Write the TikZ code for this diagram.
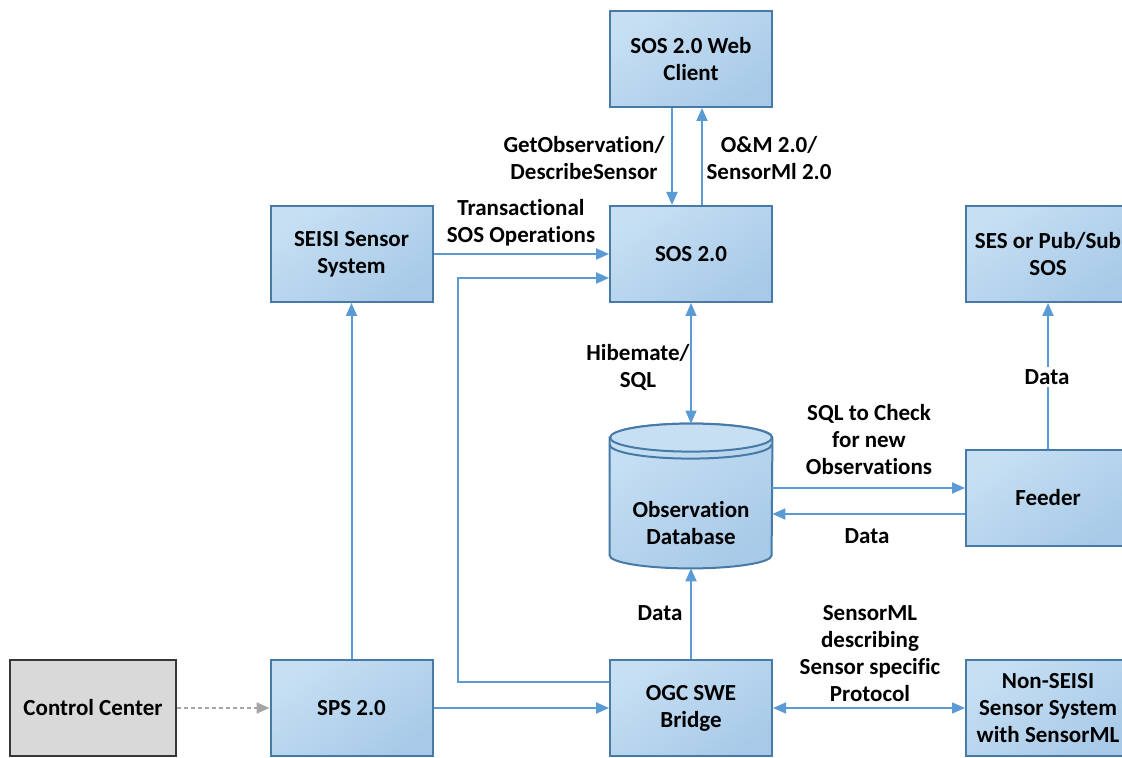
\documentclass[tikz,border=0pt]{standalone}
\usepackage{fontspec}
\setmainfont{Carlito}[RawFeature={-liga}]
\usetikzlibrary{arrows.meta,calc}
\definecolor{boxlight}{RGB}{198,223,243}
\definecolor{boxdark}{RGB}{168,202,232}
\definecolor{boxline}{RGB}{72,122,168}
\definecolor{arrowblue}{RGB}{91,155,213}
\definecolor{ccfill}{RGB}{217,217,217}
\definecolor{ccline}{RGB}{55,55,55}
\definecolor{dotgray}{RGB}{165,165,165}
\begin{document}
\begin{tikzpicture}[x=0.5pt,y=-0.5pt,
  txt/.style={font=\fontsize{11.5}{13.5}\selectfont\bfseries, align=center, text=black},
  bluebox/.style={txt, draw=boxline, line width=1pt, top color=boxlight, bottom color=boxdark, shading angle=35, minimum width=81pt, minimum height=48pt, inner sep=0pt},
  graybox/.style={txt, draw=ccline, line width=1.2pt, fill=ccfill, minimum width=83pt, minimum height=48pt, inner sep=0pt},
  lbl/.style={txt, inner sep=1pt},
  arr/.style={draw=arrowblue, line width=1pt, -{Triangle[length=6.5pt,width=5.5pt]}},
  darr/.style={draw=arrowblue, line width=0.7pt, {Triangle[length=6.5pt,width=5.5pt]}-{Triangle[length=6.5pt,width=5.5pt]}},
  dotarr/.style={draw=dotgray, line width=1pt, dash pattern=on 2pt off 1.5pt, -{Triangle[length=6.5pt,width=5.5pt]}}
]
\clip (0,0) rectangle (1122,758);
\fill[white] (0,0) rectangle (1122,758);

% boxes
\node[bluebox] (web) at (691,59) {SOS 2.0 Web\\Client};
\node[bluebox] (sos) at (691,254) {SOS 2.0};
\node[bluebox] (seisi) at (351.5,254) {SEISI Sensor\\System};
\node[bluebox, minimum width=82pt] (ses) at (1048,254) {SES or Pub/Sub\\SOS};
\node[bluebox, minimum width=82pt] (feeder) at (1048,498) {Feeder};
\node[graybox] (ctrl) at (93,708) {Control Center};
\node[bluebox] (sps) at (351.5,708) {SPS 2.0};
\node[bluebox] (bridge) at (691,708) {OGC SWE\\Bridge};
\node[bluebox, minimum width=82pt] (nonseisi) at (1048,708) {Non-SEISI\\Sensor System\\with SensorML};

% database cylinder
\node[minimum width=81pt, minimum height=72pt, inner sep=0pt] (db) at (691,496) {};
\path[draw=boxline, line width=1pt, top color=boxlight, bottom color=boxdark, shading angle=35]
  ($(db.north west)+(0,14)$) -- ($(db.south west)+(0,-13)$)
  arc[start angle=180, end angle=360, x radius=40.5pt, y radius=6.5pt]
  -- ($(db.north east)+(0,14)$)
  arc[start angle=0, end angle=180, x radius=40.5pt, y radius=7pt] -- cycle;
\draw[boxline, line width=1pt, fill=boxlight] ($(db.north)+(0,14)$) ellipse[x radius=40.5pt, y radius=7pt];
\draw[boxline, line width=1pt] ($(db.north west)+(0,21)$)
  arc[start angle=180, end angle=360, x radius=40.5pt, y radius=7pt];
\node[txt] (dbtext) at (691,523) {Observation\\Database};

% connectors
\draw[arr] ($(web.south)+(-19,0)$) -- ($(sos.north)+(-19,0)$);
\draw[arr] ($(sos.north)+(11,0)$) -- ($(web.south)+(11,0)$);
\draw[arr] (seisi.east) -- (sos.west);
\coordinate (bend) at (458,278);
\draw[arr] ($(bridge.west)+(0,-26)$) -| (bend) -- ($(sos.west)+(0,24)$);
\draw[arr] (sps.north) -- (seisi.south);
\draw[arr] (sps.east) -- (bridge.west);
\draw[dotarr] (ctrl.east) -- (sps.west);
\draw[darr] (sos.south) -- (db.north);
\draw[arr] ($(db.east)+(0,-8)$) -- ($(feeder.west)+(0,-10)$);
\draw[arr] ($(feeder.west)+(0,16)$) -- ($(db.east)+(0,18)$);
\draw[arr] (feeder.north) -- (ses.south);
\draw[arr] (bridge.north) -- (db.south);
\draw[darr] (bridge.east) -- (nonseisi.west);

% labels
\node[lbl] (l1) at (584,158) {GetObservation/\\DescribeSensor};
\node[lbl] (l2) at (769,158) {O\&M 2.0/\\SensorMl 2.0};
\node[lbl] (l3) at (521,223) {Transactional\\SOS Operations};
\node[lbl] (l4) at (638,367) {Hibemate/\\SQL};
\node[lbl] (l5) at (869,440) {SQL to Check\\for new\\Observations};
\node[lbl] (l6) at (867,536) {Data};
\node[lbl, fill=white] (l7) at (1047,377) {Data};
\node[lbl] (l8) at (660,613) {Data};
\node[lbl] (l9) at (870,654) {SensorML\\describing\\Sensor specific\\Protocol};
\end{tikzpicture}
\end{document}
